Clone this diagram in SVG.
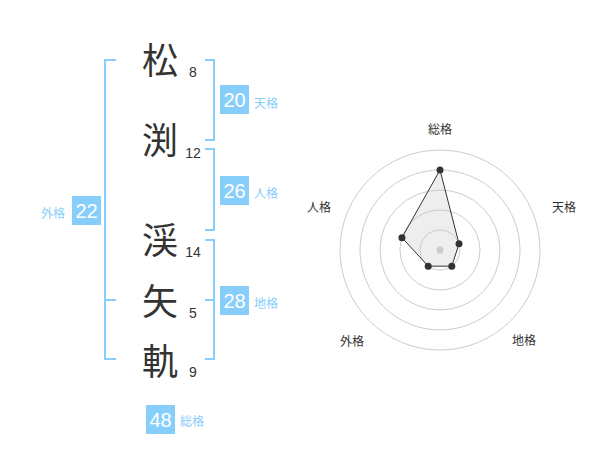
<svg xmlns="http://www.w3.org/2000/svg" width="600" height="470" viewBox="0 0 600 470">
<style>
.kanji{font-family:"Noto Sans CJK JP","Noto Sans",sans-serif;font-size:36px;fill:#333;text-anchor:middle}
.num{font-family:"Liberation Sans",Arial,sans-serif;font-size:14px;fill:#333;text-anchor:middle}
.br{fill:none;stroke:#87cefa;stroke-width:2}
.box{fill:#87cefa}
.bnum{font-family:"Liberation Sans",Arial,sans-serif;font-size:20px;fill:#fff;text-anchor:middle}
.lbl{font-family:"Noto Sans CJK JP","Noto Sans",sans-serif;font-size:12px;fill:#87cefa}
.rl{font-family:"Noto Sans CJK JP","Noto Sans",sans-serif;font-size:12px;fill:#333;text-anchor:middle}
.ring{fill:none;stroke:#ccc;stroke-width:1}
.dot{fill:#333}
</style>
<rect width="600" height="470" fill="#fff"/>
<g id="char1"><text class="kanji" x="160" y="74">松</text><text class="num" x="193" y="77">8</text></g>
<g id="char2"><text class="kanji" x="160" y="154">渕</text><text class="num" x="193" y="158">12</text></g>
<g id="char3"><text class="kanji" x="160" y="254">渓</text><text class="num" x="193" y="257">14</text></g>
<g id="char4"><text class="kanji" x="160" y="315">矢</text><text class="num" x="193" y="318">5</text></g>
<g id="char5"><text class="kanji" x="160" y="375">軌</text><text class="num" x="193" y="377">9</text></g>
<g id="connectors">
<path class="br" d="M116,60 H105 V359 H116 M105,300 H116"/>
<path class="br" d="M205,60 H214 V140 H205"/>
<path class="br" d="M205,149 H214 V230 H205"/>
<path class="br" d="M205,240 H214 V359 H205 M205,300 H214"/>
</g>
<g id="tenkaku"><rect class="box" x="220" y="85" width="29" height="29"/><text class="bnum" x="234.5" y="107">20</text><text class="lbl" x="254" y="108">天格</text></g>
<g id="jinkaku"><rect class="box" x="220" y="176" width="29" height="29"/><text class="bnum" x="234.5" y="197.5">26</text><text class="lbl" x="254" y="198">人格</text></g>
<g id="chikaku"><rect class="box" x="220" y="286" width="29" height="29"/><text class="bnum" x="234.5" y="307.5">28</text><text class="lbl" x="254" y="308">地格</text></g>
<g id="gaikaku"><rect class="box" x="72" y="196" width="29" height="29"/><text class="bnum" x="86.5" y="217.5">22</text><text class="lbl" x="41" y="218">外格</text></g>
<g id="soukaku"><rect class="box" x="146" y="405" width="29" height="29"/><text class="bnum" x="160.5" y="426.5">48</text><text class="lbl" x="180" y="426">総格</text></g>
<g id="radar">
<circle class="ring" cx="440" cy="250" r="20"/>
<circle class="ring" cx="440" cy="250" r="40"/>
<circle class="ring" cx="440" cy="250" r="60"/>
<circle class="ring" cx="440" cy="250" r="80"/>
<circle class="ring" cx="440" cy="250" r="100"/>
<polygon points="440,170 459.02,243.82 451.76,266.18 428.24,266.18 401.96,237.64" fill="rgba(200,200,200,0.3)" stroke="#333" stroke-width="1"/>
<circle cx="440" cy="250" r="3.5" fill="#ccc"/>
<circle class="dot" cx="440" cy="170" r="3.5"/>
<circle class="dot" cx="459.02" cy="243.82" r="3.5"/>
<circle class="dot" cx="451.76" cy="266.18" r="3.5"/>
<circle class="dot" cx="428.24" cy="266.18" r="3.5"/>
<circle class="dot" cx="401.96" cy="237.64" r="3.5"/>
<text class="rl" x="440" y="134">総格</text>
<text class="rl" x="564" y="212">天格</text>
<text class="rl" x="319" y="212">人格</text>
<text class="rl" x="352" y="346">外格</text>
<text class="rl" x="524" y="345">地格</text>
</g>
</svg>
